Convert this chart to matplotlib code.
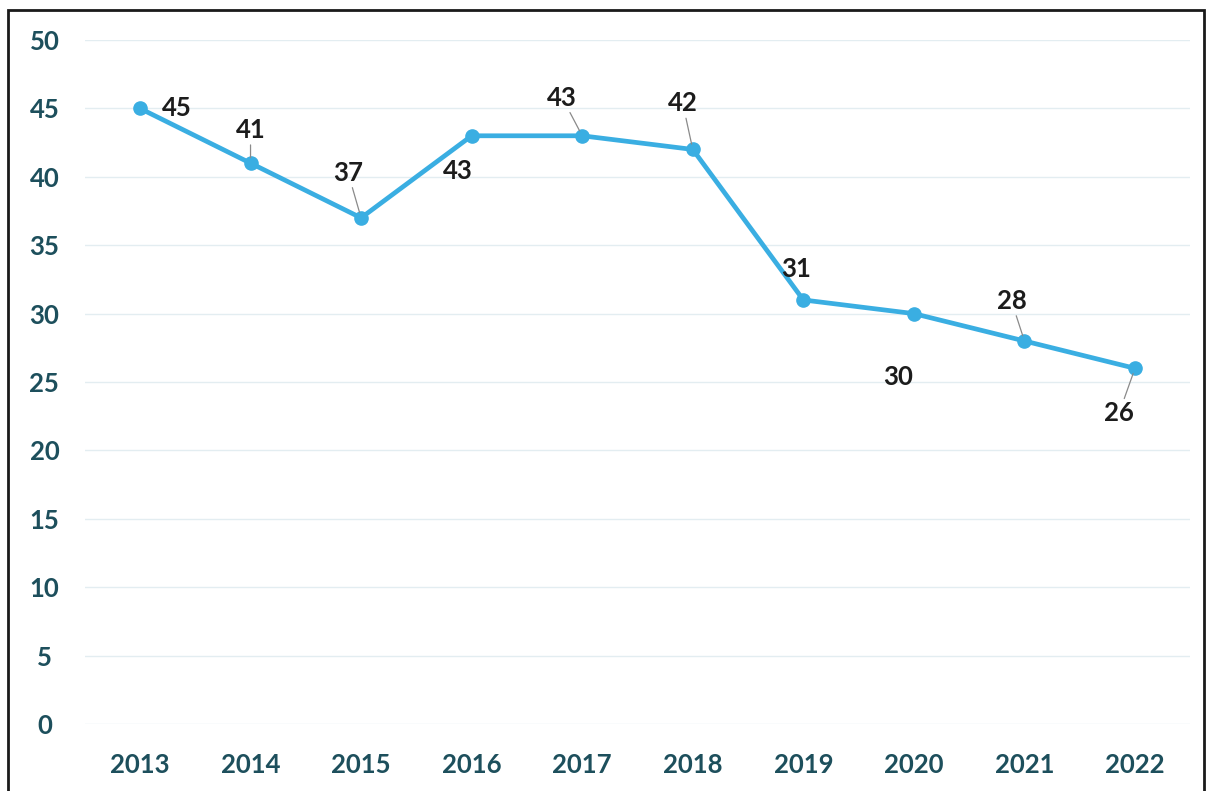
import matplotlib
matplotlib.use("Agg")
from matplotlib import pyplot as plt
from matplotlib.patches import Rectangle

years = ["2013", "2014", "2015", "2016", "2017", "2018", "2019", "2020", "2021", "2022"]
values = [45, 41, 37, 43, 43, 42, 31, 30, 28, 26]
# label offsets in pixels from each point, and whether a leader line is drawn
label_dx = [37, 0, -13, -14, -20, -10, -7, -16, -13, -16]
label_dy = [0, 33, 45, -35, 38, 46, 31, -63, 40, -45]
leader = [False, True, True, False, True, True, False, False, True, True]
yticks = list(range(0, 51, 5))

line_color = "#3aaee2"
tick_color = "#1d4f5c"
label_color = "#1c1c1c"
plt.rcParams["font.family"] = ["Lato", "DejaVu Sans"]

fig = plt.figure(figsize=(12.1, 7.91), dpi=100)
ax = fig.add_axes([0.070, 0.0847, 0.9137, 0.8647])

x = list(range(len(years)))
ax.plot(x, values, color=line_color, lw=3.4, marker="o", ms=9.5,
        mfc=line_color, mec=line_color, zorder=3, solid_capstyle="round")

for xi, v, dx, dy, ld in zip(x, values, label_dx, label_dy, leader):
    arrow = dict(arrowstyle="-", color="#8a8a8a", lw=0.9, shrinkA=0, shrinkB=4) if ld else None
    ax.annotate(str(v), (xi, v), xytext=(dx, dy), textcoords="offset pixels",
                ha="center", va="center", fontsize=18.5, fontweight="bold",
                color=label_color, arrowprops=arrow, zorder=4)

ax.set_xlim(-0.5, len(years) - 0.5)
ax.set_ylim(0, 50)
ax.set_yticks(yticks)
ax.set_xticks(x)
ax.set_xticklabels(years)
ax.grid(axis="y", color="#e3edf1", lw=1.0)
ax.set_axisbelow(True)
for s in ax.spines.values():
    s.set_visible(False)
ax.tick_params(length=0, labelsize=18.5, labelcolor=tick_color)
ax.tick_params(axis="y", pad=29)
ax.tick_params(axis="x", pad=21)
for lab in ax.get_yticklabels():
    lab.set_ha("center")
    lab.set_fontweight("bold")
for lab in ax.get_xticklabels():
    lab.set_fontweight("bold")

# scanned page frame
fig.patches.append(Rectangle((8 / 1210, -0.05), 1196 / 1210, 1.05 - 10 / 791,
                             transform=fig.transFigure, fill=False,
                             edgecolor="#1a1a1a", lw=2))

fig.savefig("out.png", dpi=100)
